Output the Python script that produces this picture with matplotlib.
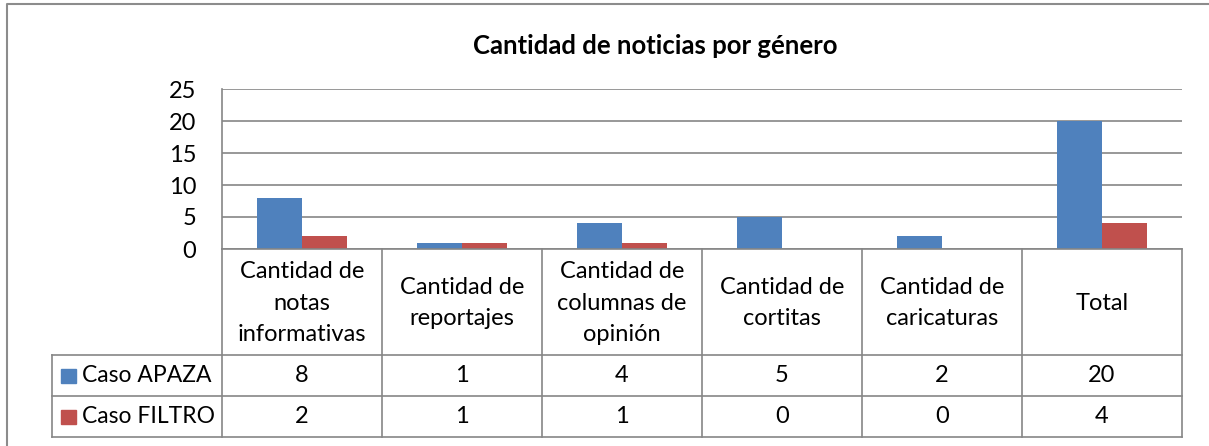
import matplotlib.pyplot as plt
from matplotlib.patches import Rectangle
from matplotlib.lines import Line2D

# Data
categories = ["Cantidad de\nnotas\ninformativas", "Cantidad de\nreportajes",
              "Cantidad de\ncolumnas de\nopinión", "Cantidad de\ncortitas",
              "Cantidad de\ncaricaturas", "Total"]
series_names = ["Caso APAZA", "Caso FILTRO"]
apaza = [8, 1, 4, 5, 2, 20]
filtro = [2, 1, 1, 0, 0, 4]
yticks = [0, 5, 10, 15, 20, 25]

BLUE = "#4F81BD"
RED = "#C0504D"
GRID = "#868686"
FONT = "Lato"
FS = 17

W, H = 1209, 446
fig = plt.figure(figsize=(W / 100, H / 100), dpi=100)
plt.rcParams['font.family'] = [FONT, 'DejaVu Sans']


def frac(x0, y0, x1, y1):
    # pixel box -> figure fraction [left, bottom, width, height]
    return [x0 / W, 1 - y1 / H, (x1 - x0) / W, (y1 - y0) / H]


# outer chart border (top and left visible)
fig.add_artist(Line2D([7 / W, 7 / W, 1], [0, 1 - 3.5 / H, 1 - 3.5 / H],
                      transform=fig.transFigure, color="#8c8c8c", lw=1.5))

fig.text(655 / W, 1 - 46 / H, "Cantidad de noticias por género", ha="center",
         va="center", fontsize=18.5, fontweight="bold")

# bar chart
ax = fig.add_axes(frac(222, 89, 1182, 249))
n = len(categories)
xs = list(range(n))
bw = 0.28
ax.bar([x - bw / 2 for x in xs], apaza, bw, color=BLUE, zorder=3)
ax.bar([x + bw / 2 for x in xs], filtro, bw, color=RED, zorder=3)
ax.set_xlim(-0.5, n - 0.5)
ax.set_ylim(0, 25)
ax.set_yticks(yticks)
ax.set_yticklabels([str(t) for t in yticks], fontsize=FS)
ax.set_xticks([])
ax.tick_params(axis="y", length=0, pad=18.5)
ax.yaxis.grid(True, color=GRID, lw=1.2, zorder=0)
for side in ["top", "right", "bottom"]:
    ax.spines[side].set_visible(False)
ax.spines["left"].set_color(GRID)
ax.spines["left"].set_linewidth(1.2)

# data table below the chart, sharing the category scale
# pixel rows: header 249-355, row1 355-396, row2 396-437
tb = fig.add_axes(frac(52, 249, 1182, 437))
leg_w = (222 - 52) / 160.0
tb.set_xlim(-0.5 - leg_w, n - 0.5)
tb.set_ylim(0, 188)
tb.axis("off")
kw = dict(color=GRID, lw=1.2, clip_on=False)
# horizontal lines
tb.plot([-0.5, n - 0.5], [188, 188], **kw)
tb.plot([-0.5 - leg_w, n - 0.5], [82, 82], **kw)
tb.plot([-0.5 - leg_w, n - 0.5], [41, 41], **kw)
tb.plot([-0.5 - leg_w, n - 0.5], [0, 0], **kw)
# vertical lines
tb.plot([-0.5 - leg_w, -0.5 - leg_w], [0, 82], **kw)
for i in range(n + 1):
    tb.plot([i - 0.5, i - 0.5], [0, 188], **kw)

for i, lab in enumerate(categories):
    tb.text(i, 134, lab, ha="center", va="center", fontsize=FS, linespacing=1.62)
for i in range(n):
    tb.text(i, 61.5, str(apaza[i]), ha="center", va="center", fontsize=FS)
    tb.text(i, 20.5, str(filtro[i]), ha="center", va="center", fontsize=FS)

for name, col, yc in [(series_names[0], BLUE, 61.5), (series_names[1], RED, 20.5)]:
    x0 = -0.5 - leg_w + 9 / 160.0
    tb.add_patch(Rectangle((x0, yc - 7), 15 / 160.0, 14, color=col, clip_on=False))
    tb.text(x0 + 21 / 160.0, yc, name, ha="left", va="center", fontsize=16.5)

fig.savefig("out.png", dpi=100, facecolor="white")
